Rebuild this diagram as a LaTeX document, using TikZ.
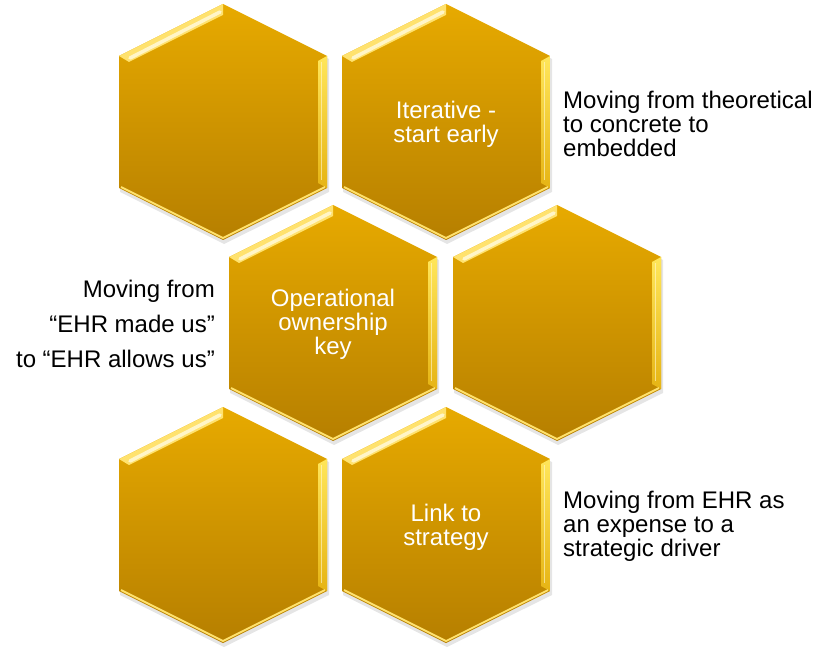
\documentclass[tikz,border=0pt]{standalone}
\usepackage{fontspec}
\setmainfont{Liberation Sans}

\definecolor{combtop}{RGB}{231,170,0}
\definecolor{combbot}{RGB}{182,127,0}
\definecolor{combrim}{RGB}{255,226,110}
\definecolor{combglint}{RGB}{255,248,210}
\definecolor{rimtop}{RGB}{255,230,90}
\definecolor{rimbot}{RGB}{230,180,20}
\newcommand{\cellfont}{\fontsize{24}{24}\selectfont}

\tikzset{
  cell/.pic={
    % soft shadow under the cell
    \fill[black,opacity=0.10] (1,115) -- (106,63) -- (106,-70) -- (1,-122)
      -- (-103,-70) -- (-103,63) -- cycle;
    % body
    \shade[top color=combtop,bottom color=combbot]
      (0,118) -- (104,66) -- (104,-66) -- (0,-118) -- (-104,-66) -- (-104,66) -- cycle;
    % bevel, upper left
    \fill[combrim] (-104,66) -- (0,118) -- (0,107) -- (-94,60) -- cycle;
    \draw[combglint,line width=3.5pt,opacity=0.9,line cap=round] (-93,64) -- (-3,110);
    % bevel, right side
    \shade[top color=rimtop,bottom color=rimbot] (104,66) -- (104,-66) -- (95,-61) -- (95,61) -- cycle;
    \draw[combglint,line width=1.5pt,opacity=0.6] (98.5,60) -- (98.5,-58);
    % bright rim along the bottom
    \draw[combrim,line width=1.8pt] (-102,-65) -- (0,-116) -- (102,-65);
  },
  celltext/.style={text=white,align=center,font=\cellfont,inner sep=0pt},
  note/.style={text=black,font=\cellfont,inner sep=0pt},
}

\begin{document}
\begin{tikzpicture}[x=1pt,y=1pt]
  \useasboundingbox (0,0) rectangle (816,646);

  % the comb, three rows of two
  \pic at (223,524) {cell};
  \pic at (446,524) {cell};
  \pic at (333,323) {cell};
  \pic at (557,323) {cell};
  \pic at (223,121) {cell};
  \pic at (446,121) {cell};

  \node[celltext] (iter) at (446,521.5) {Iterative -\\start early};
  \node[celltext] (owner) at (333,322) {Operational\\ownership\\key};
  \node[celltext] (link) at (446,119) {Link to\\strategy};

  % notes beside the cells
  \node[note,anchor=north west,align=left] (theory) at (563,554.9)
    {Moving from theoretical\\to concrete to\\embedded};
  \node[note,anchor=north east,align=right,font=\fontsize{24}{35}\selectfont] (allows) at (215,366.2)
    {Moving from\\“EHR made us”\\to “EHR allows us”};
  \node[note,anchor=north west,align=left] (driver) at (563,155.2)
    {Moving from EHR as\\an expense to a\\strategic driver};
\end{tikzpicture}
\end{document}
